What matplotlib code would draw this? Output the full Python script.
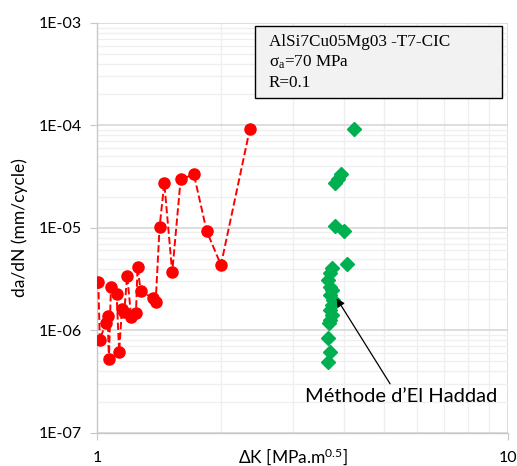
import matplotlib
matplotlib.use("Agg")
import matplotlib.pyplot as plt
from matplotlib.patches import Rectangle
from matplotlib.ticker import LogLocator, FixedLocator, NullFormatter

# Red series (ΔK, da/dN)
red_dk = [1.006, 1.015, 1.048, 1.06, 1.068, 1.08, 1.115, 1.131, 1.149, 1.164,
          1.183, 1.21, 1.243, 1.254, 1.276, 1.369, 1.388, 1.419, 1.457, 1.523,
          1.597, 1.72, 1.848, 2.002, 2.355]
red_dadn = [2.97e-6, 7.97e-7, 1.18e-6, 1.38e-6, 5.2e-7, 2.62e-6, 2.24e-6, 6.17e-7,
            1.62e-6, 1.51e-6, 3.40e-6, 1.36e-6, 1.46e-6, 4.14e-6, 2.41e-6, 2.05e-6,
            1.87e-6, 1.02e-5, 2.73e-5, 3.67e-6, 2.97e-5, 3.32e-5, 9.29e-6, 4.33e-6,
            9.24e-5]

# Green series (El Haddad method)
green_dk = [4.229, 3.918, 3.866, 3.795, 3.795, 3.991, 4.051, 3.726, 3.69, 3.643,
            3.69, 3.738, 3.69, 3.758, 3.726, 3.69, 3.726, 3.69, 3.67, 3.655,
            3.69, 3.655]
green_dadn = [9.18e-5, 3.34e-5, 2.97e-5, 2.71e-5, 1.04e-5, 9.35e-6, 4.40e-6, 4.07e-6,
              3.59e-6, 3.09e-6, 2.66e-6, 2.47e-6, 2.20e-6, 1.97e-6, 1.76e-6, 1.57e-6,
              1.41e-6, 1.26e-6, 1.17e-6, 8.45e-7, 6.17e-7, 4.93e-7]

y_ticks = [1e-7, 1e-6, 1e-5, 1e-4, 1e-3]
y_labels = ["1E-07", "1E-06", "1E-05", "1E-04", "1E-03"]
x_ticks = [1, 10]
x_labels = ["1", "10"]

plt.rcParams['font.family'] = ['Lato', 'DejaVu Sans']
plt.rcParams['mathtext.fontset'] = 'custom'
plt.rcParams['mathtext.rm'] = 'Liberation Serif'
plt.rcParams['mathtext.it'] = 'Liberation Serif:italic'
plt.rcParams['mathtext.sf'] = 'Lato'

W, H = 517, 466
fig = plt.figure(figsize=(W / 100, H / 100), dpi=100)
ax = fig.add_axes([0.188, 0.0715, 0.794, 0.8795])
ax.set_xscale('log')
ax.set_yscale('log')
ax.set_xlim(1, 10)
ax.set_ylim(1e-7, 1e-3)

ax.yaxis.set_major_locator(FixedLocator(y_ticks))
ax.set_yticklabels(y_labels)
ax.xaxis.set_major_locator(FixedLocator(x_ticks))
ax.set_xticklabels(x_labels)
ax.xaxis.set_minor_locator(LogLocator(base=10, subs=range(2, 10)))
ax.yaxis.set_minor_locator(LogLocator(base=10, subs=range(2, 10)))
ax.xaxis.set_minor_formatter(NullFormatter())
ax.yaxis.set_minor_formatter(NullFormatter())

ax.grid(which='minor', color='#efefef', linewidth=0.9, zorder=0)
ax.grid(which='major', color='#d4d4d4', linewidth=1.1, zorder=0)
ax.set_axisbelow(True)

for s in ['top', 'right']:
    ax.spines[s].set_visible(False)
for s in ['left', 'bottom']:
    ax.spines[s].set_color('#c8c8c8')
    ax.spines[s].set_linewidth(1.0)

ax.tick_params(which='major', length=5, color='#c8c8c8', labelsize=11.5, labelcolor='black')
ax.tick_params(which='minor', length=0)
ax.tick_params(axis='x', pad=8)
ax.tick_params(axis='y', pad=6)

ax.plot(red_dk, red_dadn, linestyle='--', color='#ff0000', linewidth=1.4,
        marker='o', markersize=8, markerfacecolor='#ff0000', markeredgecolor='#ff0000',
        zorder=3)
ax.plot(green_dk, green_dadn, linestyle='none', marker='D', markersize=7.2,
        markerfacecolor='#00b050', markeredgecolor='#00b050', zorder=3)

ax.set_ylabel('da/dN (mm/cycle)', fontsize=12.5, labelpad=8)
fig.text(293 / W, 1 - 457 / H, 'ΔK [MPa.m$^{\\mathsf{0.5}}$]', ha='center',
         va='center', fontsize=12.5)

# Info box (pixel placement converted to figure fraction)
box = Rectangle((255 / W, 1 - 98 / H), (502 - 255) / W, (98 - 26) / H,
                transform=fig.transFigure, facecolor='#f2f2f2', edgecolor='black',
                linewidth=1.0, zorder=5)
fig.add_artist(box)
fig.text(269 / W, 1 - 42.5 / H, 'AlSi7Cu05Mg03 -T7-CIC', ha='left', va='center',
         fontsize=12.3, family='Liberation Serif', zorder=6)
fig.text(269 / W, 1 - 62 / H, 'σ$_{\\rm a}$=70 MPa', ha='left', va='center',
         fontsize=12.3, family='Liberation Serif', zorder=6)
fig.text(269 / W, 1 - 83 / H, 'R=0.1', ha='left', va='center',
         fontsize=12.3, family='Liberation Serif', zorder=6)

ax.annotate('', xy=(3.83, 2.05e-6), xytext=(5.17, 3.0e-7),
            arrowprops=dict(arrowstyle='-|>', color='black', linewidth=0.9,
                            mutation_scale=12, shrinkA=0, shrinkB=0),
            zorder=6)
ax.text(5.50, 2.23e-7, 'Méthode d\u2019El Haddad', ha='center', va='center',
        fontsize=14.5, zorder=6)

fig.savefig('out.png', dpi=100)
